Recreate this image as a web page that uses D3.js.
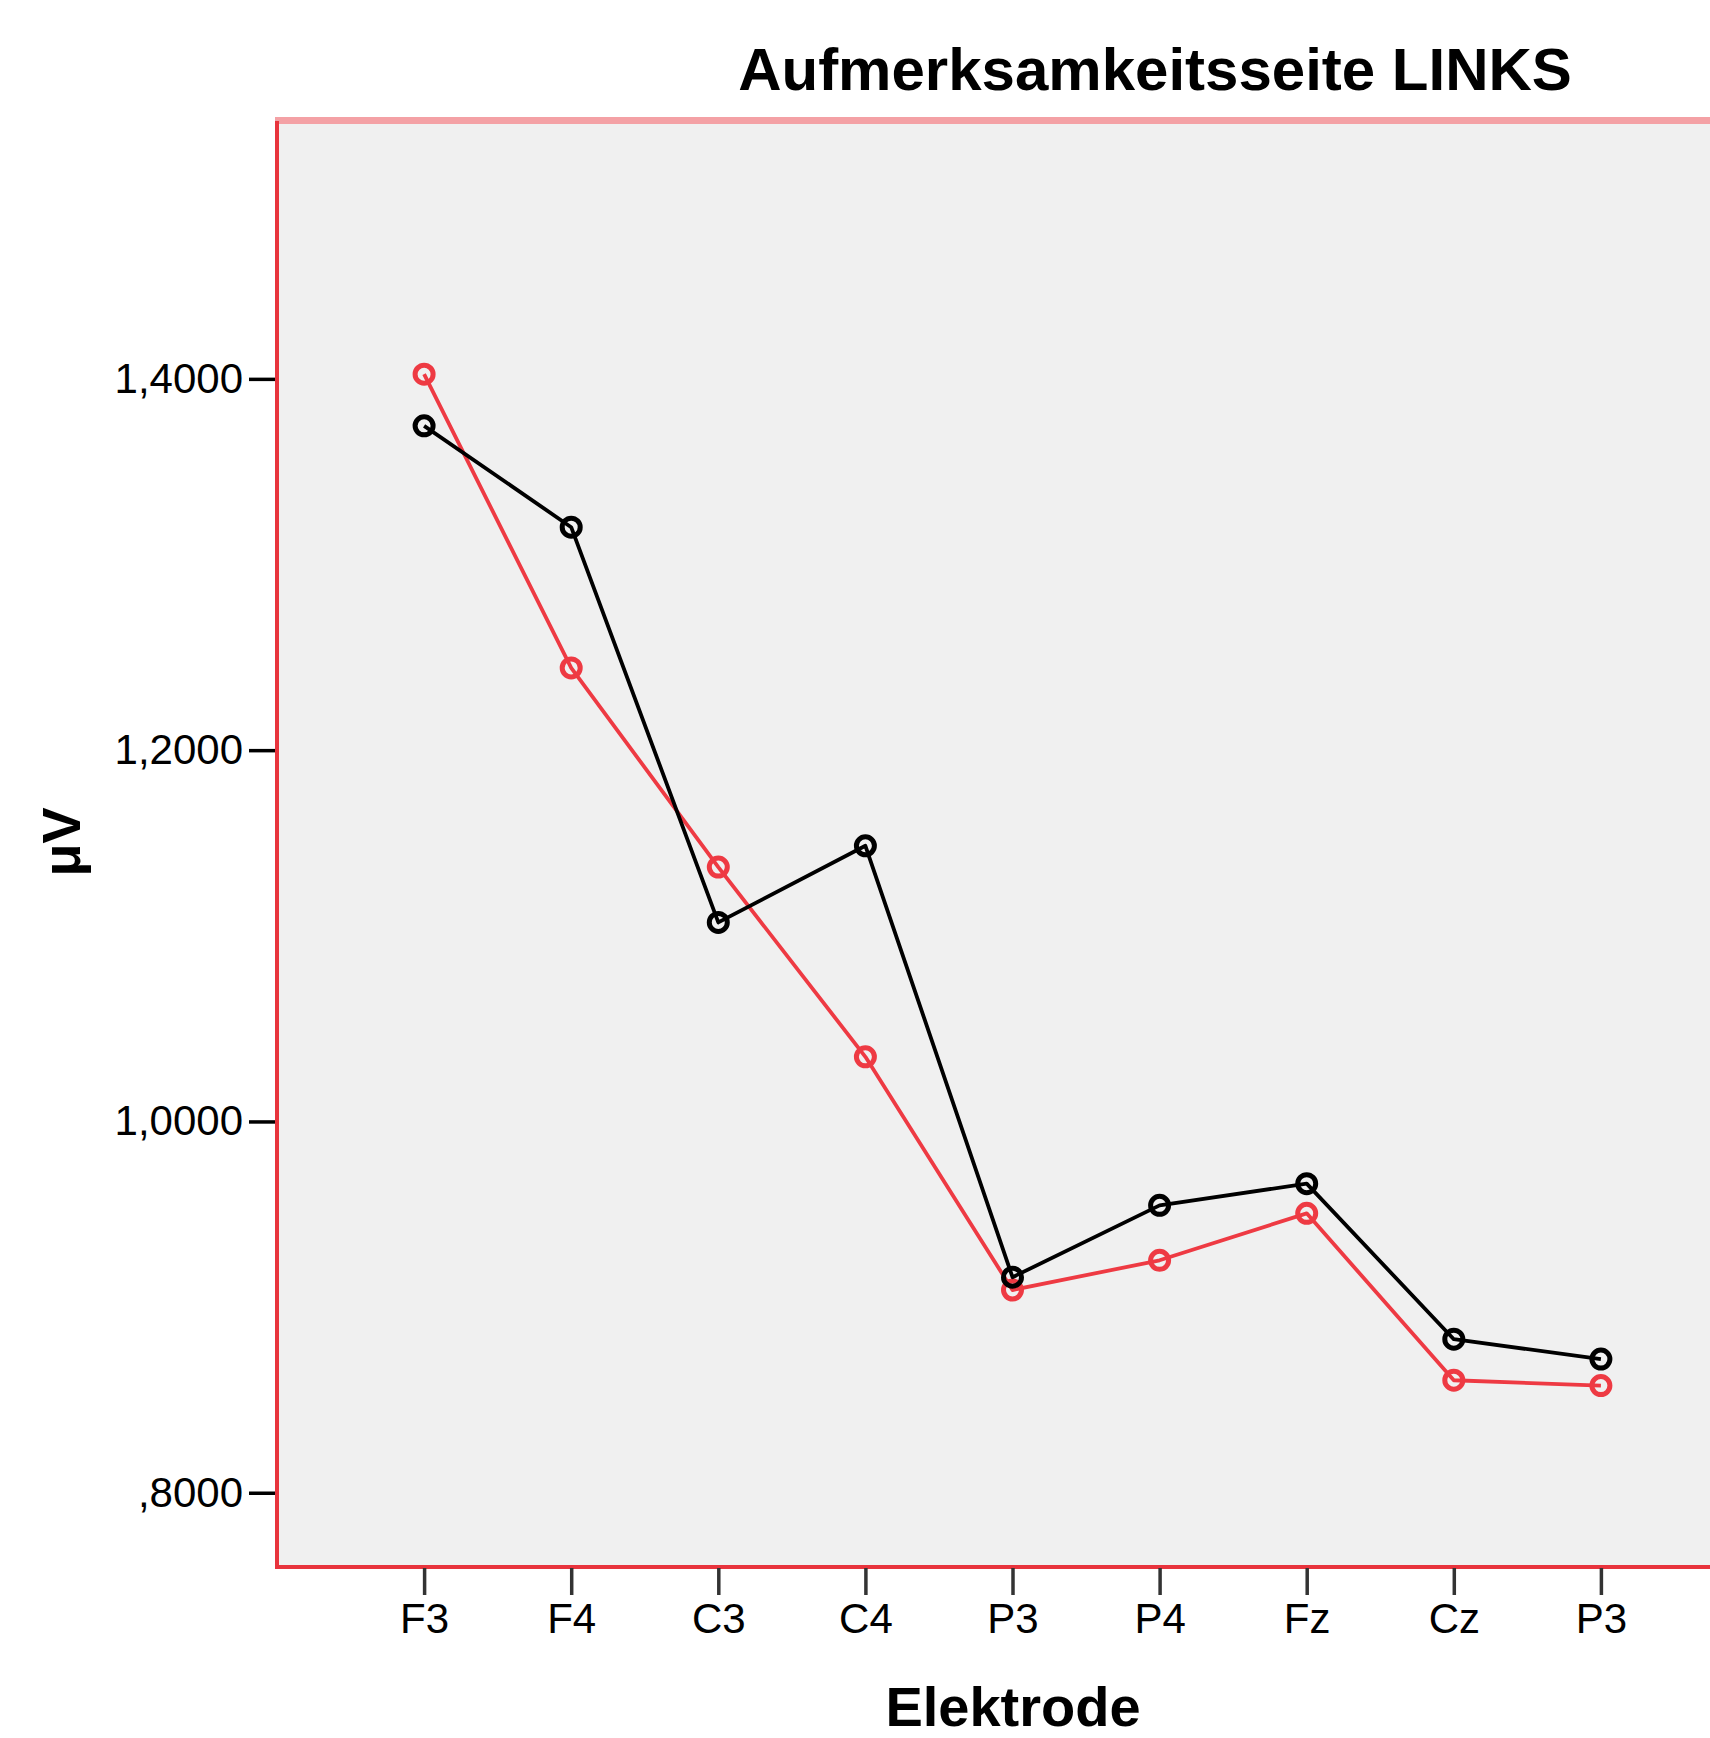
<!DOCTYPE html>
<html>
<head>
<meta charset="utf-8">
<script src="https://cdn.jsdelivr.net/npm/d3@7"></script>
<style>
html,body{margin:0;padding:0;background:#fff;overflow:hidden;}
svg{display:block;font-family:"Liberation Sans",Arial,sans-serif;}
</style>
</head>
<body>
<svg id="chart" width="1710" height="1738"></svg>
<script>
const categories = ["F3","F4","C3","C4","P3","P4","Fz","Cz","P3"];
const seriesBlack = [1.3747,1.3201,1.1072,1.1485,0.9161,0.9548,0.9665,0.8827,0.8720];
const seriesRed   = [1.4025,1.2443,1.1370,1.0348,0.9092,0.9252,0.9505,0.8606,0.8577];
const yTicks = [0.8,1.0,1.2,1.4];
const yTickLabels = [",8000","1,0000","1,2000","1,4000"];
const title = "Aufmerksamkeitsseite LINKS";
const xTitle = "Elektrode";
const yTitle = "μV";

const svg = d3.select("#chart");
const L = 277, R = 1748, T = 121, B = 1567;
const idx = d3.range(categories.length);
const x = d3.scalePoint().domain(idx).range([L, R]).padding(1);
const y = d3.scaleLinear().domain([0.76, 1.5389]).range([B, T]);

const red = "#e8343d";

// plot background
svg.append("rect").attr("x", L).attr("y", T).attr("width", R - L).attr("height", B - T).attr("fill", "#f0f0f0");

// series lines & markers
const line = d3.line().x((d, i) => x(i)).y(d => y(d));
function drawSeries(data, color) {
  svg.append("path").datum(data).attr("d", line)
    .attr("fill", "none").attr("stroke", color).attr("stroke-width", 3.8).attr("stroke-linejoin", "round");
  svg.append("g").selectAll("circle").data(data).join("circle")
    .attr("cx", (d, i) => x(i)).attr("cy", d => y(d)).attr("r", 9)
    .attr("fill", "none").attr("stroke", color).attr("stroke-width", 5);
}
drawSeries(seriesRed, "#ee3a43");
drawSeries(seriesBlack, "#000");

// borders
svg.append("line").attr("x1", L - 2).attr("x2", 1710).attr("y1", 120.5).attr("y2", 120.5)
  .attr("stroke", "#f4a1a5").attr("stroke-width", 7);
svg.append("line").attr("x1", L).attr("x2", L).attr("y1", T).attr("y2", B + 2)
  .attr("stroke", red).attr("stroke-width", 4);
svg.append("line").attr("x1", L).attr("x2", 1710).attr("y1", B).attr("y2", B)
  .attr("stroke", red).attr("stroke-width", 4);

// y axis
const yAxis = d3.axisLeft(y).tickValues(yTicks)
  .tickFormat((d, i) => yTickLabels[i]).tickSize(26).tickPadding(6);
const gy = svg.append("g").attr("transform", `translate(${L - 2},0)`).call(yAxis);
gy.select(".domain").remove();
gy.selectAll(".tick line").attr("stroke", "#000").attr("stroke-width", 3.5);
gy.selectAll(".tick text").attr("font-size", 42).attr("fill", "#000")
  .attr("font-family", "Liberation Sans, Arial, sans-serif");

// x axis
const xAxis = d3.axisBottom(x).tickFormat(i => categories[i]).tickSize(27).tickPadding(8);
const gx = svg.append("g").attr("transform", `translate(0,${B + 1})`).call(xAxis);
gx.select(".domain").remove();
gx.selectAll(".tick line").attr("stroke", "#333").attr("stroke-width", 3.5);
gx.selectAll(".tick text").attr("font-size", 42).attr("fill", "#000")
  .attr("font-family", "Liberation Sans, Arial, sans-serif");

// titles
svg.append("text").attr("x", 1155).attr("y", 90).attr("text-anchor", "middle")
  .attr("font-size", 60).attr("font-weight", "bold").text(title);
svg.append("text").attr("x", 1013).attr("y", 1726).attr("text-anchor", "middle")
  .attr("font-size", 56).attr("font-weight", "bold").text(xTitle);
svg.append("text").attr("transform", "translate(80,842) rotate(-90)").attr("text-anchor", "middle")
  .attr("font-size", 54).attr("font-weight", "bold").text(yTitle);
</script>
</body>
</html>
